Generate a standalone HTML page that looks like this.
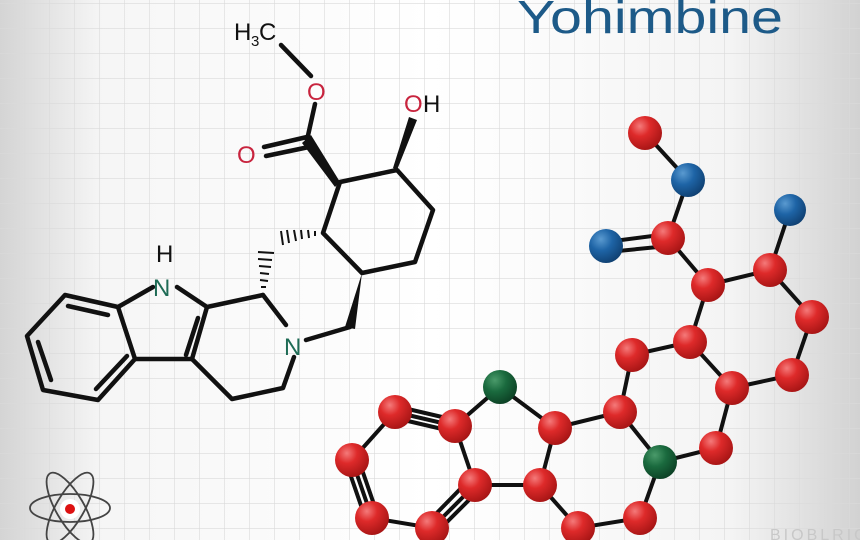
<!DOCTYPE html>
<html><head><meta charset="utf-8"><style>
html,body{margin:0;padding:0;width:860px;height:540px;overflow:hidden;background:#fff}
</style></head><body>
<svg width="860" height="540" viewBox="0 0 860 540" xmlns="http://www.w3.org/2000/svg">
<defs>
<linearGradient id="bg" x1="0" y1="0" x2="1" y2="0">
<stop offset="0" stop-color="#d4d4d4"/><stop offset="0.12" stop-color="#f6f6f6"/><stop offset="0.5" stop-color="#ffffff"/><stop offset="0.85" stop-color="#f4f4f4"/><stop offset="1" stop-color="#d2d2d2"/>
</linearGradient>
<pattern id="grid" width="25" height="25" patternUnits="userSpaceOnUse" x="0" y="4">
<path d="M25 0V25M0 25H25" fill="none" stroke="#dadada" stroke-width="1.2"/>
</pattern>
<radialGradient id="red" cx="0.35" cy="0.3" r="0.75"><stop offset="0" stop-color="#f47a7a"/><stop offset="0.4" stop-color="#de2a2a"/><stop offset="1" stop-color="#a51414"/></radialGradient>
<radialGradient id="blue" cx="0.35" cy="0.3" r="0.75"><stop offset="0" stop-color="#5a9ad0"/><stop offset="0.45" stop-color="#1e64a6"/><stop offset="1" stop-color="#0f3f70"/></radialGradient>
<radialGradient id="green" cx="0.35" cy="0.3" r="0.75"><stop offset="0" stop-color="#4a9a6a"/><stop offset="0.45" stop-color="#1a6a3e"/><stop offset="1" stop-color="#0c4024"/></radialGradient>
</defs>
<rect width="860" height="540" fill="url(#bg)"/>
<rect width="860" height="540" fill="url(#grid)"/>
<text x="517" y="33" font-family="Liberation Sans, sans-serif" font-size="46" fill="#1d5a88" textLength="266" lengthAdjust="spacingAndGlyphs">Yohimbine</text>

<!-- skeletal -->
<g stroke="#111" stroke-width="4.5" fill="none" stroke-linecap="round" stroke-linejoin="round">
<polyline points="118,307 65,295 27,336 43,390 98,400 135,359 118,307"/>
<line x1="68" y1="306" x2="108" y2="315"/>
<line x1="38" y1="342" x2="51" y2="380"/>
<line x1="96" y1="389" x2="127" y2="356"/>
<line x1="118" y1="307" x2="153" y2="287"/>
<line x1="177" y1="287" x2="207" y2="307"/>
<line x1="207" y1="307" x2="192" y2="359"/>
<line x1="198" y1="318" x2="186" y2="355"/>
<line x1="192" y1="359" x2="135" y2="359"/>
<polyline points="192,359 232,399 283,388 294,357"/>
<line x1="207" y1="307" x2="263" y2="295"/>
<line x1="263" y1="295" x2="286" y2="325"/>
<line x1="306" y1="340" x2="350" y2="327"/>
<polyline points="362,273 415,262 433,210 397,170 340,182 323,233 362,273"/>
<line x1="307" y1="140" x2="315" y2="104"/>
<line x1="307" y1="137" x2="264" y2="147"/>
<line x1="309" y1="147" x2="266" y2="156"/>
<line x1="311" y1="76" x2="281" y2="45"/>
</g>
<g fill="#111">
<polygon points="340,182 335,187 302,143 311,135"/>
<polygon points="397,170 393,168 409,117 417,120"/>
<polygon points="362,273 345,327 355,329"/>
</g>
<g stroke="#111" stroke-width="2">
<line x1="261" y1="287" x2="266" y2="287"/>
<line x1="260" y1="280" x2="268" y2="281"/>
<line x1="260" y1="273" x2="269" y2="274"/>
<line x1="259" y1="266" x2="271" y2="267"/>
<line x1="258" y1="259" x2="272" y2="260"/>
<line x1="258" y1="252" x2="274" y2="253"/>
<line x1="315" y1="231" x2="315" y2="236"/>
<line x1="308" y1="230" x2="309" y2="238"/>
<line x1="301" y1="230" x2="302" y2="239"/>
<line x1="294" y1="230" x2="296" y2="241"/>
<line x1="287" y1="230" x2="289" y2="243"/>
<line x1="281" y1="231" x2="283" y2="245"/>
</g>
<g font-family="Liberation Sans, sans-serif" font-size="24">
<text x="153" y="296" fill="#1e6b55">N</text>
<text x="156" y="262" fill="#111">H</text>
<text x="284" y="355" fill="#1e6b55">N</text>
<text x="237" y="163" fill="#c8243e">O</text>
<text x="307" y="100" fill="#c8243e">O</text>
<text x="404" y="112" fill="#c8243e">O</text><text x="423" y="112" fill="#111">H</text>
<text x="234" y="40" fill="#111">H</text><text x="251" y="46" font-size="15" fill="#111">3</text><text x="259" y="40" fill="#111">C</text>
</g>

<!-- ball & stick -->
<g stroke="#111" stroke-width="4" fill="none">
<path d="M645,133L688,180L668,238L708,285L770,270L812,317L792,375L732,388L690,342L708,285M790,210L770,270M690,342L632,355L620,412L660,462L716,448L732,388M620,412L555,428L500,387L455,426L475,485L540,485L555,428M540,485L578,528L640,518L660,462M455,426L395,412L352,460L372,518L432,528L475,485"/>
<path d="M668,234L606,242M668,246L608,252M455,420L395,406M455,432L395,418M346,462L366,520M358,458L378,516M428,522L469,480M437,532L479,490"/>
</g>
<g>
<circle cx="645" cy="133" r="17" fill="url(#red)"/>
<circle cx="688" cy="180" r="17" fill="url(#blue)"/>
<circle cx="668" cy="238" r="17" fill="url(#red)"/>
<circle cx="606" cy="246" r="17" fill="url(#blue)"/>
<circle cx="790" cy="210" r="16" fill="url(#blue)"/>
<circle cx="708" cy="285" r="17" fill="url(#red)"/>
<circle cx="770" cy="270" r="17" fill="url(#red)"/>
<circle cx="812" cy="317" r="17" fill="url(#red)"/>
<circle cx="690" cy="342" r="17" fill="url(#red)"/>
<circle cx="632" cy="355" r="17" fill="url(#red)"/>
<circle cx="732" cy="388" r="17" fill="url(#red)"/>
<circle cx="792" cy="375" r="17" fill="url(#red)"/>
<circle cx="620" cy="412" r="17" fill="url(#red)"/>
<circle cx="500" cy="387" r="17" fill="url(#green)"/>
<circle cx="555" cy="428" r="17" fill="url(#red)"/>
<circle cx="660" cy="462" r="17" fill="url(#green)"/>
<circle cx="716" cy="448" r="17" fill="url(#red)"/>
<circle cx="455" cy="426" r="17" fill="url(#red)"/>
<circle cx="395" cy="412" r="17" fill="url(#red)"/>
<circle cx="352" cy="460" r="17" fill="url(#red)"/>
<circle cx="475" cy="485" r="17" fill="url(#red)"/>
<circle cx="540" cy="485" r="17" fill="url(#red)"/>
<circle cx="372" cy="518" r="17" fill="url(#red)"/>
<circle cx="432" cy="528" r="17" fill="url(#red)"/>
<circle cx="578" cy="528" r="17" fill="url(#red)"/>
<circle cx="640" cy="518" r="17" fill="url(#red)"/>
</g>

<!-- atom icon -->
<g fill="none" stroke="#444" stroke-width="1.8">
<ellipse cx="70" cy="508" rx="40" ry="14"/>
<ellipse cx="70" cy="508" rx="40" ry="14" transform="rotate(60 70 508)"/>
<ellipse cx="70" cy="508" rx="40" ry="14" transform="rotate(-60 70 508)"/>
</g>
<circle cx="70" cy="509" r="10" fill="#fff"/>
<circle cx="70" cy="509" r="5" fill="#d11"/>
<text x="770" y="540" font-family="Liberation Sans, sans-serif" font-size="16" fill="#c8c8c8" letter-spacing="3">BIOBLRIO</text>
</svg>
</body></html>
